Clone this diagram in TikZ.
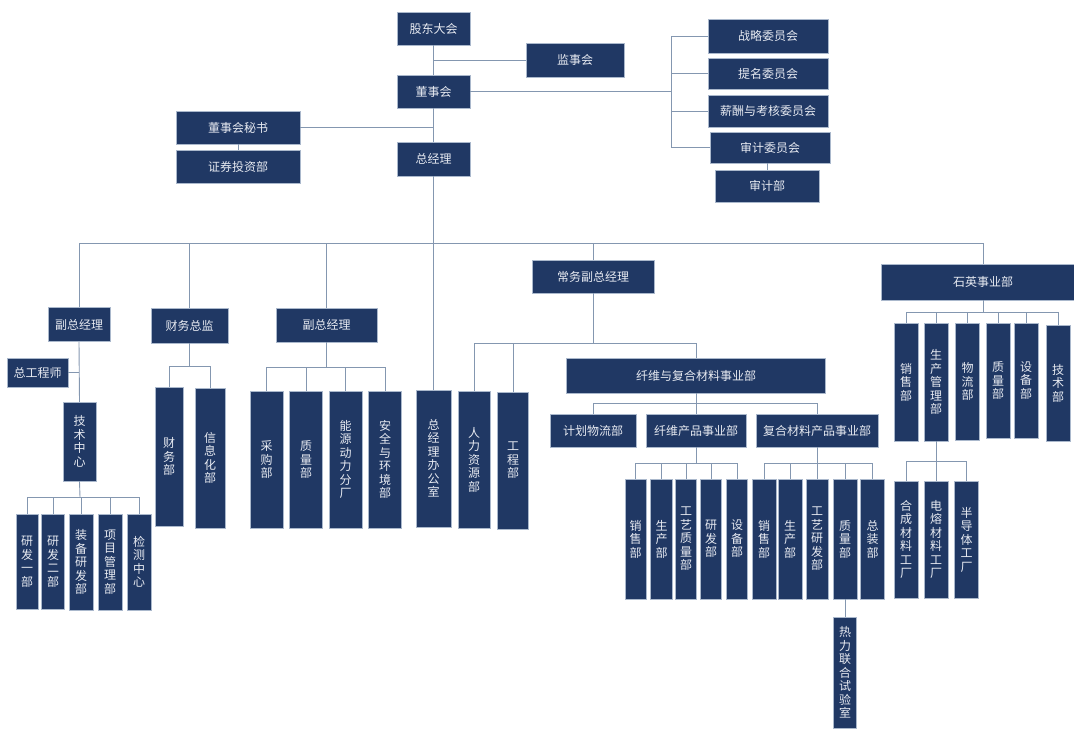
\documentclass[tikz,border=0pt]{standalone}
\usepackage{fontspec}
\newfontfamily\cjk{Noto Sans CJK SC}
\definecolor{navy}{RGB}{32,56,100}
\definecolor{wirec}{RGB}{132,151,176}
\definecolor{rim}{RGB}{170,184,204}
\definecolor{ink}{RGB}{232,235,242}
\tikzset{
  unit/.style={draw=rim, line width=0.5pt, fill=navy, text=ink, inner sep=0pt,
    font=\cjk\fontsize{12}{13.5}\selectfont, align=center},
  wh/.style 2 args={minimum width=#1pt, minimum height=#2pt},
  wire/.style={draw=wirec, line width=0.9pt},
}
\begin{document}
\begin{tikzpicture}[x=1pt,y=-1pt]
  \useasboundingbox (0,0) rectangle (1074,729);
  % top of the chart
  \node[unit,wh={73}{33}] (gd) at (433.5,28.5) {股东大会};
  \node[unit,wh={98}{34}] (jsh) at (575,60) {监事会};
  \node[unit,wh={73}{33}] (dsh) at (433.5,91.5) {董事会};
  \node[unit,wh={124}{33}] (ms) at (238,127.5) {董事会秘书};
  \node[unit,wh={124}{33}] (zq) at (238,166.5) {证券投资部};
  \node[unit,wh={73}{34}] (zjl) at (433.5,159) {总经理};
  \node[unit,wh={120}{34}] (zl) at (768,36) {战略委员会};
  \node[unit,wh={120}{31}] (tm) at (768,73.5) {提名委员会};
  \node[unit,wh={120}{32}] (xc) at (768,111) {薪酬与考核委员会};
  \node[unit,wh={120}{31}] (sj) at (770,147.5) {审计委员会};
  \node[unit,wh={104}{32}] (sjb) at (767,186) {审计部};
  % second level
  \node[unit,wh={62}{34}] (fz1) at (79,324.5) {副总经理};
  \node[unit,wh={77}{35}] (cw) at (189.5,325.5) {财务总监};
  \node[unit,wh={101}{34}] (fz2) at (326.5,325) {副总经理};
  \node[unit,wh={122}{33}] (cwf) at (593,276.5) {常务副总经理};
  \node[unit,wh={204}{36}] (sy) at (983,282) {石英事业部};
  % third level
  \node[unit,wh={61}{29}] (zgcs) at (37.5,372.5) {总工程师};
  \node[unit,wh={33}{79}] (jszx) at (79.5,441.5) {技\\术\\中\\心};
  \node[unit,wh={28}{139}] (cwb) at (169,456.5) {财\\务\\部};
  \node[unit,wh={30}{140}] (xxh) at (210,458) {信\\息\\化\\部};
  \node[unit,wh={33}{137}] (cg) at (266.5,459.5) {采\\购\\部};
  \node[unit,wh={33}{137}] (zlb) at (306,459.5) {质\\量\\部};
  \node[unit,wh={33}{137}] (ny) at (345.5,459.5) {能\\源\\动\\力\\分\\厂};
  \node[unit,wh={33}{137}] (aq) at (385,459.5) {安\\全\\与\\环\\境\\部};
  \node[unit,wh={35}{137}] (bgs) at (433.5,458.5) {总\\经\\理\\办\\公\\室};
  \node[unit,wh={32}{137}] (rl) at (474,459.5) {人\\力\\资\\源\\部};
  \node[unit,wh={31}{137}] (gc) at (513,460.5) {工\\程\\部};
  \node[unit,wh={259}{35}] (xw) at (696,375.5) {纤维与复合材料事业部};
  \node[unit,wh={86}{33}] (jh) at (593,430.5) {计划物流部};
  \node[unit,wh={100}{33}] (xwcp) at (696,430.5) {纤维产品事业部};
  \node[unit,wh={122}{33}] (fhcp) at (817,430.5) {复合材料产品事业部};
  \node[unit,wh={24}{118}] (qxs) at (906,382) {销\\售\\部};
  \node[unit,wh={24}{118}] (qsc) at (936,382) {生\\产\\管\\理\\部};
  \node[unit,wh={24}{117}] (qwl) at (967.5,381.5) {物\\流\\部};
  \node[unit,wh={24}{115}] (qzl) at (998,380.5) {质\\量\\部};
  \node[unit,wh={24}{115}] (qsb) at (1026,380.5) {设\\备\\部};
  \node[unit,wh={24}{116}] (qjs) at (1058,383) {技\\术\\部};
  % bottom level
  \node[unit,wh={22}{95}] (rd1) at (27,561.5) {研\\发\\一\\部};
  \node[unit,wh={23}{95}] (rd2) at (53,561.5) {研\\发\\二\\部};
  \node[unit,wh={24}{96}] (zbyf) at (81,562) {装\\备\\研\\发\\部};
  \node[unit,wh={24}{96}] (xmgl) at (110,562) {项\\目\\管\\理\\部};
  \node[unit,wh={24}{96}] (jczx) at (139,562) {检\\测\\中\\心};
  \node[unit,wh={21}{120}] (fxs) at (635.5,539) {销\\售\\部};
  \node[unit,wh={22}{120}] (fsc) at (661.5,539) {生\\产\\部};
  \node[unit,wh={21}{120}] (fgz) at (686,539) {工\\艺\\质\\量\\部};
  \node[unit,wh={21}{120}] (fyf) at (711,539) {研\\发\\部};
  \node[unit,wh={21}{120}] (fsb) at (737,539) {设\\备\\部};
  \node[unit,wh={24}{120}] (cxs) at (764,539) {销\\售\\部};
  \node[unit,wh={24}{120}] (csc) at (790,539) {生\\产\\部};
  \node[unit,wh={22}{120}] (cgy) at (817,539) {工\\艺\\研\\发\\部};
  \node[unit,wh={24}{120}] (czl) at (845,539) {质\\量\\部};
  \node[unit,wh={24}{120}] (czz) at (872.5,539) {总\\装\\部};
  \node[unit,wh={23}{111}] (rlsy) at (845,672.5) {热\\力\\联\\合\\试\\验\\室};
  \node[unit,wh={24}{117}] (hc) at (906,539.5) {合\\成\\材\\料\\工\\厂};
  \node[unit,wh={24}{117}] (dr) at (936,539.5) {电\\熔\\材\\料\\工\\厂};
  \node[unit,wh={24}{117}] (bdt) at (966.5,539.5) {半\\导\\体\\工\\厂};
  % bus points
  \coordinate (cbus) at (671,91.5);
  \coordinate (bus) at (433.5,243);
  \coordinate (cwbus) at (189.5,366);
  \coordinate (fz2bus) at (326.5,367);
  \coordinate (jbus) at (80,497);
  \coordinate (cwfbus) at (593,343);
  \coordinate (xwbus) at (696,403.5);
  \coordinate (xwcpbus) at (696,463);
  \coordinate (fhcpbus) at (817,463);
  \coordinate (sybus) at (983,312);
  \coordinate (qscbus) at (936,461);
  \begin{scope}[wire]
    \draw (gd) to (dsh);
    \draw (dsh) to (zjl);
    \draw (jsh.west) to (jsh.west -| gd.south);
    \draw (ms.east) to (ms.east -| dsh.south);
    \draw (ms) to (zq);
    \draw (dsh.east) to (cbus);
    \foreach \c in {zl,tm,xc,sj}
      \draw (\c.west) -| (cbus);
    \draw (sjb.north |- sj.south) to (sjb.north);
    \draw (zjl.south) to (bgs.north);
    \foreach \c in {fz1,cw,fz2,cwf,sy}
      \draw (\c.north) |- (bus);
    \draw (fz1.south) to (jszx.north);
    \draw (zgcs.east) to (zgcs.east -| fz1.south);
    \draw (jszx.south) to (jbus);
    \foreach \c in {rd1,rd2,zbyf,xmgl,jczx}
      \draw (\c.north) |- (jbus);
    \draw (cw.south) to (cwbus);
    \foreach \c in {cwb,xxh}
      \draw (\c.north) |- (cwbus);
    \draw (fz2.south) to (fz2bus);
    \foreach \c in {cg,zlb,ny,aq}
      \draw (\c.north) |- (fz2bus);
    \draw (cwf.south) to (cwfbus);
    \foreach \c in {rl,gc,xw}
      \draw (\c.north) |- (cwfbus);
    \draw (xw.south) to (xwbus);
    \foreach \c in {jh,xwcp,fhcp}
      \draw (\c.north) |- (xwbus);
    \draw (xwcp.south) to (xwcpbus);
    \foreach \c in {fxs,fsc,fgz,fyf,fsb}
      \draw (\c.north) |- (xwcpbus);
    \draw (fhcp.south) to (fhcpbus);
    \foreach \c in {cxs,csc,cgy,czl,czz}
      \draw (\c.north) |- (fhcpbus);
    \draw (czl) to (rlsy);
    \draw (sy.south) to (sybus);
    \foreach \c in {qxs,qsc,qwl,qzl,qsb,qjs}
      \draw (\c.north) |- (sybus);
    \draw (qsc.south) to (qscbus);
    \foreach \c in {hc,dr,bdt}
      \draw (\c.north) |- (qscbus);
  \end{scope}
\end{tikzpicture}
\end{document}
